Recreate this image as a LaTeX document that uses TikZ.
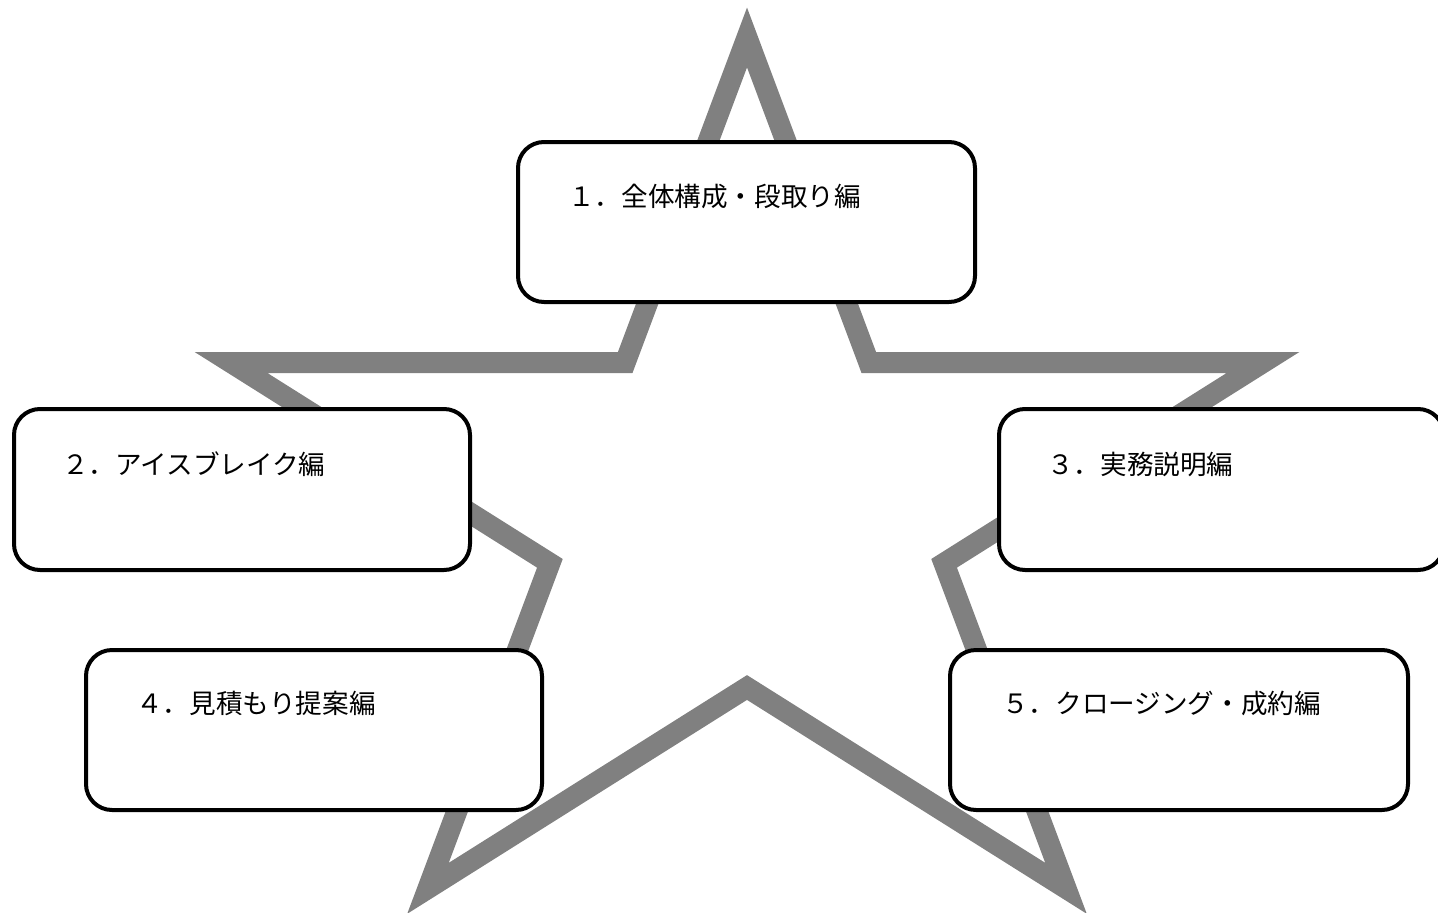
\documentclass[tikz,border=0pt]{standalone}
\usepackage{fontspec}
\newfontfamily\jp{Noto Sans CJK JP}
\definecolor{stargray}{HTML}{808080}
\tikzset{
  card/.style={draw=black, line width=4pt, fill=white, rounded corners=26pt, inner sep=0pt},
  lbl/.style={anchor=west, inner sep=0pt, font=\jp\fontsize{26.6pt}{28pt}\selectfont, text=black},
  starline/.style={draw=stargray, line width=21pt, line join=miter, miter limit=10}
}
\begin{document}
\begin{tikzpicture}[x=1pt,y=-1pt]
\useasboundingbox (0,0) rectangle (1438,913);
\clip (0,0) rectangle (1438,913);
% star outline (centre line of a regular five-pointed star, stretched)
\coordinate (s1) at (747,37.5);
\coordinate (s2) at (868.8,362.5);
\coordinate (s3) at (1263,362.5);
\coordinate (s4) at (944.1,563.3);
\coordinate (s5) at (1066,888.3);
\coordinate (s6) at (747,687.5);
\coordinate (s7) at (428,888.3);
\coordinate (s8) at (549.9,563.3);
\coordinate (s9) at (231,362.5);
\coordinate (s10) at (625.2,362.5);
\draw[starline] (s1) -- (s2) -- (s3) -- (s4) -- (s5) -- (s6) -- (s7) -- (s8) -- (s9) -- (s10) -- cycle;
% boxes
\draw[card] (518,142) rectangle (975,302);
\draw[card] (14,409) rectangle (470,570);
\draw[card] (999,409) rectangle (1444,570);
\draw[card] (86,650) rectangle (542,810);
\draw[card] (950,650) rectangle (1408,810);
\node[lbl] (t1) at (568,196) {１．全体構成・段取り編};
\node[lbl] (t2) at (62,464) {２．アイスブレイク編};
\node[lbl] (t3) at (1047,464) {３．実務説明編};
\node[lbl] (t4) at (136,703) {４．見積もり提案編};
\node[lbl] (t5) at (1002,703) {５．クロージング・成約編};
\end{tikzpicture}
\end{document}
